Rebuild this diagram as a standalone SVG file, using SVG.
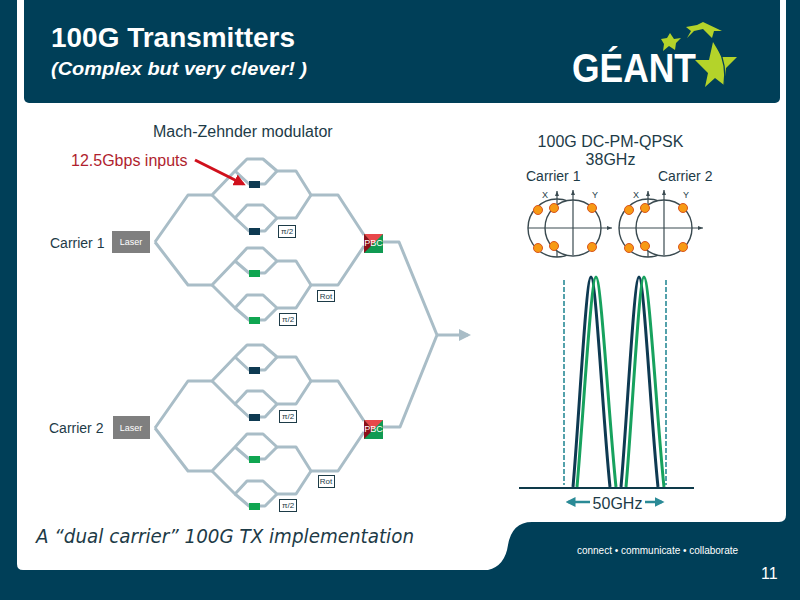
<svg xmlns="http://www.w3.org/2000/svg" width="800" height="600" viewBox="0 0 800 600">
<style>
text{font-family:"Liberation Sans",Arial,sans-serif;fill:#1d3b47}
.wg{fill:none;stroke:#a9bdc7;stroke-width:3;stroke-linejoin:round}
.dk{fill:#0e3a52}.gr{fill:#10a651}
.box{fill:#fff;stroke:#1d3b47;stroke-width:1}
.bt{font-size:8px;text-anchor:middle}
.lab{font-size:16px}
.car{font-size:14px}
.ax{fill:none;stroke:#3a4a50;stroke-width:1.2}
.circ{fill:#fff;stroke:#3a4a50;stroke-width:1.4}
.dot{fill:#f79a14;stroke:#d9541e;stroke-width:1}
.xy{font-size:9px;text-anchor:middle}
.sd{fill:none;stroke:#0e3a52;stroke-width:3}
.sg{fill:none;stroke:#17a25e;stroke-width:3}
.teal{stroke:#2a8a96;stroke-width:1.6;fill:none}
.star{fill:#b4d32a}
.laser{fill:#7f7f7f}
.lt{font-size:9px;fill:#fff;text-anchor:middle}
.pw{fill:#fff;font-size:9px}
</style>
<defs>
<marker id="ah-red" markerWidth="4" markerHeight="4" refX="3" refY="2" orient="auto"><path d="M0,0L4,2L0,4z" fill="#d0101c"/></marker>
<marker id="ah-grey" markerWidth="4" markerHeight="4" refX="3" refY="2" orient="auto"><path d="M0,0L4,2L0,4z" fill="#a9bdc7"/></marker>
<marker id="ah-teal" markerWidth="4" markerHeight="4" refX="3" refY="2" orient="auto"><path d="M0,0L4,2L0,4z" fill="#2a8a96"/></marker>
<g id="mz-half">
<polyline class="wg" points="155,242 188,195 212,195 235,171 247,159 263,159 277,171 296,171 311,195 338,195 364,235"/>
<polyline class="wg" points="235,171 249,184 265,184 277,171"/>
<polyline class="wg" points="212,195 235,218 247,205 263,205 277,218 296,218 311,195"/>
<polyline class="wg" points="235,218 249,231 265,231 277,218"/>
<polyline class="wg" points="155,242 188,285 212,285 235,261 247,248 263,248 277,261 296,261 311,285 338,285 364,246"/>
<polyline class="wg" points="235,261 249,273 265,273 277,261"/>
<polyline class="wg" points="212,285 235,308 247,295 263,295 277,308 296,308 311,285"/>
<polyline class="wg" points="235,308 249,320 265,320 277,308"/>
</g>
</defs>
<rect id="page" width="800" height="600" fill="#003f58"/>
<path id="panel" fill="#fff" d="M17,0H786V515Q786,522 779,522H532Q512,522 508,545Q505,566 488,570H23Q17,570 17,564Z"/>
<rect id="header" x="24" y="-8" width="756" height="111" rx="5" fill="#003f58"/>
<g id="title">
<text x="51" y="47" font-size="27" font-weight="700" style="fill:#fff" textLength="244" lengthAdjust="spacingAndGlyphs">100G Transmitters</text>
<text x="51" y="75" font-size="19" font-weight="700" font-style="italic" style="fill:#fff" textLength="256" lengthAdjust="spacingAndGlyphs">(Complex but very clever! )</text>
</g>
<g id="logo">
<text x="572" y="82" font-size="40" font-weight="700" style="fill:#fff" textLength="124" lengthAdjust="spacingAndGlyphs">GÉANT</text>
<polygon class="star" points="713,42 722,57 737,57 726,68 724,85 715,78 705,87 708,73 695,60 709,60"/>
<path d="M718,48Q727,65 724,85" fill="none" stroke="#003f58" stroke-width="1.300"/>
<polygon class="star" points="670,33 674,39 681,38 676,43 675,50 669,46 663,51 664,44 661,39 667,38"/>
<polygon class="star" points="703,22 722,31 714,31 712,38 703,29 694,31 687,38 691,31 686,27 697,25"/>
</g>
<g id="connectors">
<use href="#mz-half"/>
<use href="#mz-half" y="186"/>
<polyline class="wg" points="383,242 399,242 437,335 400,427 382,427"/>
<line class="wg" x1="437" y1="335" x2="468" y2="335" marker-end="url(#ah-grey)"/>
<line x1="195" y1="160" x2="243" y2="184" stroke="#d0101c" stroke-width="3" marker-end="url(#ah-red)"/>
</g>
<g id="mach-zehnder-label"><text class="lab" x="153" y="137">Mach-Zehnder modulator</text></g>
<g id="inputs-label"><text x="71" y="166" font-size="16" style="fill:#b01e2e">12.5Gbps inputs</text></g>
<g id="laser-1"><rect class="laser" x="112" y="231" width="38" height="22"/><text class="lt" x="131" y="245">Laser</text></g>
<g id="laser-2"><rect class="laser" x="113" y="416" width="37" height="23"/><text class="lt" x="131" y="431">Laser</text></g>
<g id="carrier-1"><text class="car" x="50" y="248">Carrier 1</text></g>
<g id="carrier-2"><text class="car" x="49" y="433">Carrier 2</text></g>
<g id="modulators">
<rect class="dk" x="249" y="181" width="11" height="7"/>
<rect class="dk" x="249" y="228" width="11" height="7"/>
<rect class="gr" x="249" y="270" width="11" height="7"/>
<rect class="gr" x="249" y="317" width="11" height="7"/>
<rect class="dk" x="249" y="367" width="11" height="7"/>
<rect class="dk" x="249" y="414" width="11" height="7"/>
<rect class="gr" x="249" y="456" width="11" height="7"/>
<rect class="gr" x="249" y="503" width="11" height="7"/>
</g>
<g id="pbc-1">
<rect x="364" y="234" width="19" height="19" fill="#109a52"/>
<polygon points="364,234 383,234 373,244" fill="#e8474a"/>
<polygon points="364,234 373,244 364,253" fill="#8c0f1a"/>
<text class="bt pw" x="373.500" y="246">PBC</text>
</g>
<g id="pbc-2">
<rect x="364" y="420" width="19" height="19" fill="#109a52"/>
<polygon points="364,420 383,420 373,430" fill="#e8474a"/>
<polygon points="364,420 373,430 364,439" fill="#8c0f1a"/>
<text class="bt pw" x="373.500" y="432">PBC</text>
</g>
<g id="box-pi2-1"><rect class="box" x="278.500" y="225.500" width="17" height="12"/><text class="bt" x="287" y="234">π/2</text></g>
<g id="box-rot-1"><rect class="box" x="317.500" y="290.500" width="17" height="11"/><text class="bt" x="326" y="299">Rot</text></g>
<g id="box-pi2-2"><rect class="box" x="279.500" y="313.500" width="17" height="12"/><text class="bt" x="288" y="322">π/2</text></g>
<g id="box-pi2-3"><rect class="box" x="279.500" y="410.500" width="17" height="12"/><text class="bt" x="288" y="419">π/2</text></g>
<g id="box-rot-2"><rect class="box" x="318.500" y="475.500" width="16" height="12"/><text class="bt" x="326" y="484">Rot</text></g>
<g id="box-pi2-4"><rect class="box" x="279.500" y="499.500" width="17" height="12"/><text class="bt" x="288" y="508">π/2</text></g>
<g id="spectrum-title">
<text class="lab" x="610.500" y="147" text-anchor="middle">100G DC-PM-QPSK</text>
<text class="lab" x="610.500" y="165" text-anchor="middle">38GHz</text>
<text class="car" x="526" y="181">Carrier 1</text>
<text class="car" x="658" y="181">Carrier 2</text>
</g>
<g id="const-1">
<circle class="circ" cx="557" cy="228" r="29"/>
<line class="ax" x1="557" y1="257" x2="557" y2="191"/>
<ellipse class="circ" cx="573" cy="228" rx="28" ry="28"/>
<line class="ax" x1="528" y1="228" x2="612" y2="228"/>
<line class="ax" x1="573" y1="255" x2="573" y2="190"/>
<path d="M557,191l-2,5h4zM573,190l-2,5h4zM612,228l-5,-2v4z" fill="#3a4a50"/>
<circle class="dot" cx="538" cy="210" r="4.500"/><circle class="dot" cx="538" cy="248" r="4.500"/>
<circle class="dot" cx="554" cy="208" r="4.500"/><circle class="dot" cx="554" cy="246" r="4.500"/>
<circle class="dot" cx="592" cy="208" r="4.500"/><circle class="dot" cx="592" cy="247" r="4.500"/>
<text class="xy" x="545" y="198">X</text><text class="xy" x="595" y="198">Y</text>
</g>
<g id="const-2">
<circle class="circ" cx="648" cy="228" r="29"/>
<line class="ax" x1="648" y1="257" x2="648" y2="191"/>
<ellipse class="circ" cx="664" cy="228" rx="28" ry="28"/>
<line class="ax" x1="619" y1="228" x2="703" y2="228"/>
<line class="ax" x1="664" y1="255" x2="664" y2="190"/>
<path d="M648,191l-2,5h4zM664,190l-2,5h4zM703,228l-5,-2v4z" fill="#3a4a50"/>
<circle class="dot" cx="629" cy="210" r="4.500"/><circle class="dot" cx="629" cy="248" r="4.500"/>
<circle class="dot" cx="645" cy="208" r="4.500"/><circle class="dot" cx="645" cy="246" r="4.500"/>
<circle class="dot" cx="683" cy="208" r="4.500"/><circle class="dot" cx="683" cy="247" r="4.500"/>
<text class="xy" x="636" y="198">X</text><text class="xy" x="686" y="198">Y</text>
</g>
<g id="spectrum">
<line class="teal" x1="564" y1="280" x2="564" y2="485" stroke-dasharray="5 2"/>
<line class="teal" x1="666" y1="280" x2="666" y2="485" stroke-dasharray="5 2"/>
<path class="sd" d="M573,487C579,420 586,277 591,277C596,277 603,420 610,487"/>
<path class="sd" d="M621,487C627,420 634,277 639,277C644,277 651,420 658,487"/>
<path class="sg" d="M577,487C583,420 591,277 596,277C601,277 609,420 616,487"/>
<path class="sg" d="M626,487C632,420 639,277 644,277C649,277 657,420 664,487"/>
<line x1="519" y1="488" x2="694" y2="488" stroke="#0e3a4a" stroke-width="2"/>
<line class="teal" x1="590" y1="502" x2="568" y2="502" style="stroke-width:2.500" marker-end="url(#ah-teal)"/>
<line class="teal" x1="645" y1="502" x2="662" y2="502" style="stroke-width:2.500" marker-end="url(#ah-teal)"/>
<text class="lab" x="617.500" y="509" text-anchor="middle">50GHz</text>
</g>
<g id="caption"><text x="36" y="543" font-size="19" font-style="italic" style="font-family:'DejaVu Sans',sans-serif" textLength="378" lengthAdjust="spacingAndGlyphs">A “dual carrier” 100G TX implementation</text></g>
<g id="footer">
<text x="577" y="554" font-size="10" style="fill:#fff" textLength="161">connect • communicate • collaborate</text>
<text x="761" y="579" font-size="16" style="fill:#fff">11</text>
</g>
</svg>
